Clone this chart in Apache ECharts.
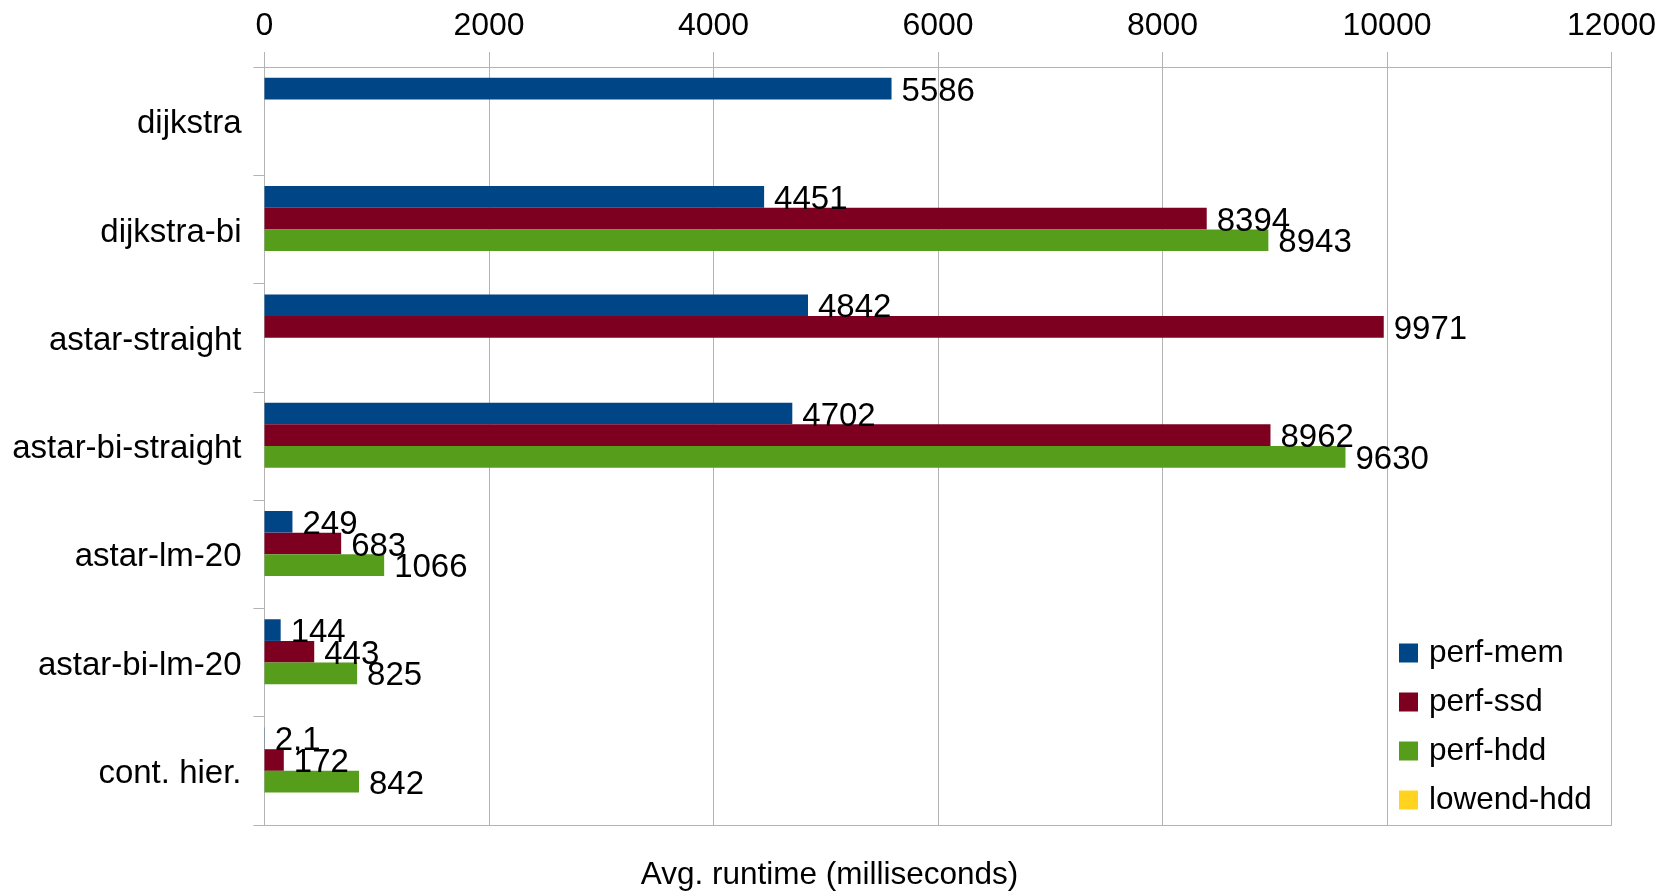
<!DOCTYPE html>
<html>
<head>
<meta charset="utf-8">
<title>Avg. runtime</title>
<script src="https://cdn.jsdelivr.net/npm/echarts@6/dist/echarts.min.js"></script>
<style>
  html, body { margin: 0; padding: 0; background: #fff; }
  #main { width: 1659px; height: 891px; }
</style>
</head>
<body>
<div id="main"></div>
<script>
// 数据
var categories = ['dijkstra', 'dijkstra-bi', 'astar-straight', 'astar-bi-straight', 'astar-lm-20', 'astar-bi-lm-20', 'cont. hier.'];
var seriesNames = ['perf-mem', 'perf-ssd', 'perf-hdd', 'lowend-hdd'];
var perfMem = [5586, 4451, 4842, 4702, 249, 144, 2.1];
var perfSsd = ['-', 8394, 9971, 8962, 683, 443, 172];
var perfHdd = ['-', 8943, '-', 9630, 1066, 825, 842];
var lowendHdd = ['-', '-', '-', '-', '-', '-', '-'];
var xTicks = [0, 2000, 4000, 6000, 8000, 10000, 12000];

var colors = ['#004586', '#7e0021', '#579d1c', '#ffd320'];
var gridColor = '#b3b3b3';
var font = 'Liberation Sans';

var chart = echarts.init(document.getElementById('main'));

function makeSeries(name, data) {
  return {
    name: name,
    type: 'bar',
    data: data,
    barGap: '0%',
    barCategoryGap: '20%',
    label: {
      show: true,
      position: 'right',
      distance: 10,
      offset: [0, 3],
      color: '#000',
      fontFamily: font,
      fontSize: 33,
      formatter: function (p) {
        return String(p.value).replace('.', ',');  // 德式小数点
      }
    }
  };
}

var option = {
  color: colors,
  animation: false,
  textStyle: { fontFamily: font },
  grid: { left: 264.5, right: 47.5, top: 67, bottom: 66 },
  title: {
    text: 'Avg. runtime (milliseconds)',
    left: 'center',
    top: 859,
    padding: 0,
    textStyle: { fontFamily: font, fontSize: 31.5, fontWeight: 'normal', color: '#000' }
  },
  legend: {
    orient: 'vertical',
    left: 1394,
    top: 632,
    itemWidth: 19,
    itemHeight: 19,
    itemGap: 17,
    icon: 'rect',
    data: seriesNames,
    textStyle: { fontFamily: font, fontSize: 31.5, color: '#000', padding: [0, 0, 0, 6] }
  },
  xAxis: [
    {
      type: 'value',
      position: 'top',
      min: xTicks[0],
      max: xTicks[xTicks.length - 1],
      interval: 2000,
      axisLine: { show: true, lineStyle: { color: gridColor, width: 1 } },
      axisTick: { show: true, length: 15, lineStyle: { color: gridColor } },
      splitLine: { show: true, lineStyle: { color: gridColor, width: 1 } },
      axisLabel: {
        color: '#000', fontFamily: font, fontSize: 32, margin: 25,
        formatter: function (v) { return String(v); }
      }
    },
    {
      type: 'value',
      position: 'bottom',
      min: xTicks[0],
      max: xTicks[xTicks.length - 1],
      axisLine: { show: true, lineStyle: { color: gridColor, width: 1 } },
      axisTick: { show: false },
      splitLine: { show: false },
      axisLabel: { show: false }
    }
  ],
  yAxis: {
    type: 'category',
    inverse: true,
    data: categories,
    axisLine: { show: true, lineStyle: { color: gridColor, width: 1 } },
    axisTick: { show: true, length: 11, lineStyle: { color: gridColor } },
    axisLabel: {
      color: '#000', fontFamily: font, fontSize: 33, margin: 23,
      formatter: function (v) { return '{c|' + v + '}'; },
      rich: {
        c: { fontFamily: font, fontSize: 33, color: '#000', padding: [6, 0, 0, 0] }
      }
    }
  },
  series: [
    makeSeries(seriesNames[0], perfMem),
    makeSeries(seriesNames[1], perfSsd),
    makeSeries(seriesNames[2], perfHdd),
    makeSeries(seriesNames[3], lowendHdd)
  ]
};

chart.setOption(option);
</script>
</body>
</html>
